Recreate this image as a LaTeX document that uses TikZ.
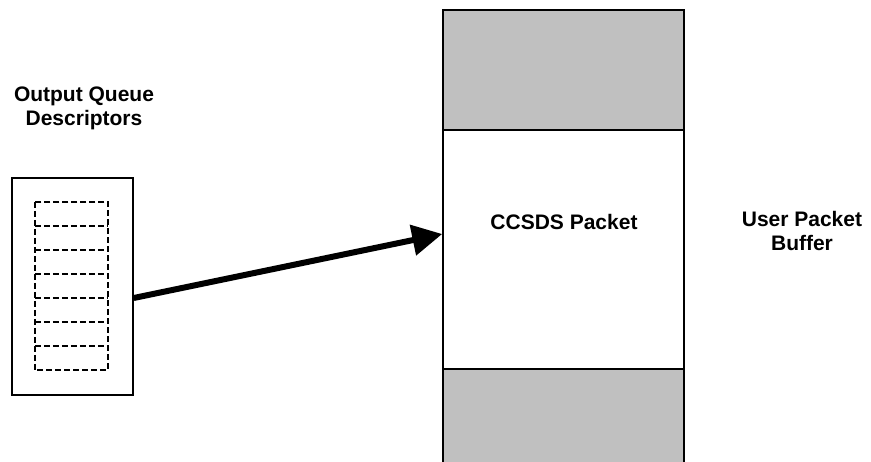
\documentclass[tikz,border=0pt]{standalone}
\usepackage{fontspec}
\setmainfont{Liberation Sans}
\usetikzlibrary{arrows.meta}
\definecolor{bufgray}{RGB}{192,192,192}
\begin{document}
\begin{tikzpicture}[x=1pt, y=-1pt,
        box/.style={rectangle, draw, line width=1.5pt, inner sep=0pt},
        slot/.style={rectangle, minimum width=73pt, minimum height=24pt, inner sep=0pt},
        slotline/.style={line width=1.6pt, dash pattern=on 6pt off 3pt},
        label/.style={font=\bfseries\fontsize{21}{24}\selectfont, align=center},
        line/.style={-{Triangle[length=30pt, width=30pt]}, line width=6pt}]
        \useasboundingbox (0,0) rectangle (871,462);

        % Queue descriptors
        \node[label] (qtitle) at (84,108) {Output Queue\\Descriptors};
        \node[box, minimum width=121pt, minimum height=217pt] (queue) at (72.5,286.5) {};
        \foreach \i in {1,...,7}
            \node[slot] (slot\i) at (71.5,190+24*\i) {};
        \draw[slotline] (slot1.north west) rectangle (slot7.south east);
        \foreach \i in {1,...,6}
            \draw[slotline] (slot\i.south west) -- (slot\i.south east);

        % Packet buffer
        \node[box, fill=bufgray, minimum width=241pt, minimum height=120pt] (hdr) at (563.5,70) {};
        \node[box, fill=white, minimum width=241pt, minimum height=239pt] (pkt) at (563.5,249.5) {};
        \node[box, fill=bufgray, minimum width=241pt, minimum height=121pt] (tail) at (563.5,429.5) {};
        \node[label] (pktname) at (564,222) {CCSDS Packet};
        \node[label] (bufname) at (802,231) {User Packet\\Buffer};

        % Arrow
        \draw[line] ([yshift=-11.5pt]queue.east) -- ([yshift=15.5pt]pkt.west);
    \end{tikzpicture}
\end{document}
